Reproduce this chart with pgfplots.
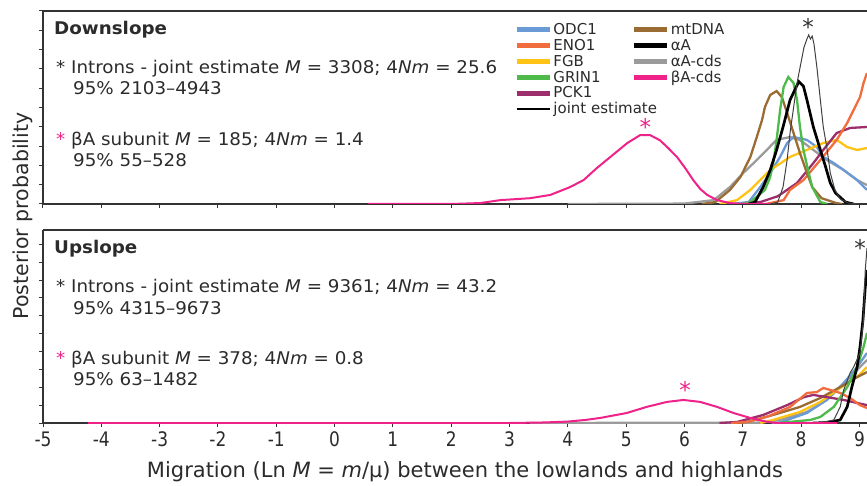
\documentclass[border=0pt]{standalone}
\usepackage{pgfplots}
\pgfplotsset{compat=1.18}
\usepackage{fontspec}
\setmainfont{DejaVu Sans}
\newfontfamily\narrowfont[FakeStretch=0.85]{DejaVu Sans}
\newfontfamily\widefont[FakeStretch=1.045]{DejaVu Sans}
\definecolor{cODC}{HTML}{6A9BD6}
\definecolor{cENO}{HTML}{F26D3D}
\definecolor{cFGB}{HTML}{FFC316}
\definecolor{cGRIN}{HTML}{4DBA4A}
\definecolor{cPCK}{HTML}{9C2F6B}
\definecolor{cMT}{HTML}{9A6C33}
\definecolor{cAcds}{HTML}{9B9B9B}
\definecolor{cBcds}{HTML}{EE2289}
\definecolor{cTxt}{HTML}{2B2B2B}
\definecolor{cAx}{HTML}{333333}
\newcommand{\lc}[1]{\makebox[77pt][l]{#1}}
\newcommand{\astmark}{\raisebox{-10pt}[7.5pt][0pt]{*}}
\tikzset{astnode/.style={inner sep=0pt, font=\fontsize{23}{23}\selectfont}}
\pgfplotsset{
  panel/.style={
    scale only axis, width=824pt, height=193pt,
    xmin=-5, xmax=9.13, ymin=0,
    axis x line*=box, axis y line*=left,
    axis line style={-, cAx, line width=1.4pt},
    xtick={-5,-4,...,9},
    tick align=outside, major tick length=4pt,
    tick style={cAx, line width=1pt},
    xtick pos=left, ytick pos=left,
    yticklabels={},
    clip=true,
  },
  thin curve/.style={line width=1.0pt},
  curve/.style={line width=2.3pt},
}
\begin{document}
\begin{tikzpicture}[x=1pt,y=1pt]
%================ TOP PANEL (Downslope) ================
\begin{axis}[panel, at={(43pt,281pt)}, anchor=south west,
  ymax=1, ytick={0,0.1,...,1.0}, xticklabels={},
  legend columns=2,
  legend cell align=left,
  legend image code/.code={\draw[#1] (0pt,0pt) -- (33pt,0pt);},
  legend style={at={(rel axis cs:0.568,0.952)}, anchor=north west, draw=none, fill=none,
    font=\fontsize{15}{16}\selectfont\color{cTxt},
    column sep=0pt, row sep=0.6pt,
    nodes={inner sep=1.2pt}},
]
\addlegendimage{cODC, line width=5pt}\addlegendentry{\lc{ODC1}}
\addlegendimage{cMT, line width=5pt}\addlegendentry{mtDNA}
\addlegendimage{cENO, line width=5pt}\addlegendentry{\lc{ENO1}}
\addlegendimage{black, line width=5pt}\addlegendentry{αA}
\addlegendimage{cFGB, line width=5pt}\addlegendentry{\lc{FGB}}
\addlegendimage{cAcds, line width=5pt}\addlegendentry{αA-cds}
\addlegendimage{cGRIN, line width=5pt}\addlegendentry{\lc{GRIN1}}
\addlegendimage{cBcds, line width=5pt}\addlegendentry{βA-cds}
\addlegendimage{cPCK, line width=5pt}\addlegendentry{\lc{PCK1}}
\addlegendimage{empty legend}\addlegendentry{}
\addlegendimage{black, line width=2.6pt}\addlegendentry{\rlap{joint estimate}}
\addlegendimage{empty legend}\addlegendentry{}

% alphaA-cds (gray)
\addplot[cAcds, curve, forget plot] coordinates {(4.0,0) (6.0,0.002) (6.5,0.02) (6.78,0.088) (7.01,0.161) (7.24,0.228) (7.41,0.28) (7.58,0.332) (7.81,0.347) (7.98,0.332) (8.21,0.28) (8.44,0.228) (8.73,0.176) (8.96,0.124) (9.13,0.098)};
% ODC1 (blue)
\addplot[cODC, curve, forget plot] coordinates {(6.8,0) (7.10,0.01) (7.30,0.088) (7.47,0.161) (7.64,0.244) (7.76,0.316) (7.87,0.347) (8.10,0.332) (8.27,0.295) (8.38,0.244) (8.56,0.212) (8.73,0.176) (8.96,0.124) (9.13,0.073)};
% FGB (yellow)
\addplot[cFGB, curve, forget plot] coordinates {(6.6,0) (6.9,0.02) (7.13,0.073) (7.47,0.176) (7.81,0.244) (8.10,0.28) (8.38,0.316) (8.61,0.332) (8.79,0.295) (8.96,0.28) (9.13,0.29)};
% PCK1 (purple)
\addplot[cPCK, curve, forget plot] coordinates {(7.0,0) (7.30,0.01) (7.6,0.04) (7.93,0.109) (8.21,0.212) (8.38,0.28) (8.61,0.368) (8.84,0.394) (9.13,0.399)};
% ENO1 (orange)
\addplot[cENO, curve, forget plot] coordinates {(7.4,0) (7.7,0.02) (7.81,0.073) (8.04,0.124) (8.33,0.228) (8.61,0.332) (8.79,0.42) (8.90,0.487) (9.01,0.554) (9.07,0.627) (9.13,0.679)};
% mtDNA (brown)
\addplot[cMT, curve, forget plot] coordinates {(6.3,0) (6.53,0.01) (6.78,0.073) (6.96,0.14) (7.13,0.244) (7.24,0.347) (7.33,0.435) (7.38,0.503) (7.47,0.565) (7.58,0.585) (7.67,0.554) (7.76,0.472) (7.87,0.368) (7.98,0.264) (8.10,0.161) (8.19,0.088) (8.35,0.03) (8.6,0.005) (8.7,0)};
% GRIN1 (green)
\addplot[cGRIN, curve, forget plot] coordinates {(7.0,0) (7.13,0.01) (7.38,0.073) (7.47,0.14) (7.53,0.228) (7.58,0.332) (7.64,0.487) (7.70,0.606) (7.78,0.658) (7.87,0.627) (7.93,0.539) (7.98,0.399) (8.04,0.28) (8.13,0.161) (8.19,0.088) (8.33,0.01) (8.45,0)};
% alphaA (black thick)
\addplot[black, line width=2.7pt, forget plot] coordinates {(7.10,0) (7.21,0.01) (7.35,0.088) (7.47,0.176) (7.58,0.28) (7.69,0.399) (7.81,0.539) (7.96,0.634) (8.04,0.61) (8.10,0.539) (8.21,0.399) (8.33,0.28) (8.42,0.192) (8.50,0.109) (8.59,0.057) (8.76,0.01) (8.9,0)};
% joint estimate (thin)
\addplot[black!75, thin curve, forget plot] coordinates {(7.47,0) (7.60,0.01) (7.69,0.088) (7.76,0.228) (7.81,0.368) (7.93,0.627) (8.05,0.813) (8.10,0.855) (8.13,0.876) (8.16,0.855) (8.19,0.87) (8.22,0.83) (8.27,0.71) (8.33,0.539) (8.38,0.399) (8.44,0.295) (8.50,0.161) (8.58,0.073) (8.67,0.026) (8.81,0.005) (9.0,0)};
% betaA-cds (pink)
\addplot[cBcds, line width=2pt, forget plot] coordinates {(0.575,0) (2.0,0) (2.5,0.005) (2.84,0.02) (3.35,0.03) (3.70,0.047) (4.04,0.088) (4.27,0.124) (4.50,0.187) (4.73,0.244) (5.02,0.316) (5.24,0.357) (5.41,0.357) (5.58,0.33) (5.72,0.29) (5.87,0.244) (6.01,0.187) (6.15,0.124) (6.27,0.078) (6.39,0.047) (6.56,0.02) (6.78,0.005) (7.0,0) (7.47,0)};
\node[astnode, cAx] at (axis cs:8.12,0.943) {\astmark};
\node[astnode, cBcds] at (axis cs:5.33,0.425) {\astmark};
\end{axis}
%================ BOTTOM PANEL (Upslope) ================
\begin{axis}[panel, at={(43pt,62pt)}, anchor=south west,
  ymax=1.08, ytick={0,0.1,...,1.0},
  xticklabels={-5,-4,-3,-2,-1,0,1,2,3,4,5,6,7,8,9},
  xticklabel style={font=\fontsize{20}{20}\selectfont\narrowfont\color{cTxt}, yshift=-1pt},
  xlabel={Migration (Ln \textit{M} = \textit{m}/μ) between the lowlands and highlands},
  xlabel style={font=\fontsize{21}{21}\selectfont\color{cTxt}, xshift=10pt, yshift=-8pt},
]
% alphaA-cds (gray)
\addplot[cAcds, curve, forget plot] coordinates {(3.35,0) (7.3,0.002) (7.64,0.017) (8.10,0.062) (8.44,0.129) (8.79,0.24) (9.01,0.313) (9.13,0.353)};
% ODC1
\addplot[cODC, curve, forget plot] coordinates {(7.5,0) (7.64,0.003) (8.10,0.056) (8.44,0.129) (8.73,0.224) (8.96,0.313) (9.13,0.392)};
% FGB
\addplot[cFGB, curve, forget plot] coordinates {(7.3,0) (7.52,0.017) (7.98,0.062) (8.33,0.118) (8.67,0.196) (8.96,0.257) (9.13,0.313)};
% mtDNA
\addplot[cMT, curve, forget plot] coordinates {(6.9,0) (7.07,0.0056) (7.52,0.045) (7.98,0.09) (8.33,0.14) (8.67,0.201) (8.96,0.257) (9.13,0.285)};
% PCK1
\addplot[cPCK, curve, forget plot] coordinates {(6.6,0) (6.90,0.0056) (7.35,0.045) (7.76,0.10) (8.05,0.145) (8.21,0.157) (8.44,0.145) (8.73,0.129) (8.96,0.112) (9.13,0.10)};
% ENO1
\addplot[cENO, curve, forget plot] coordinates {(6.8,0) (7.07,0.0056) (7.41,0.034) (7.81,0.09) (8.10,0.168) (8.27,0.173) (8.38,0.196) (8.50,0.185) (8.67,0.168) (8.84,0.14) (9.01,0.10) (9.13,0.084)};
% GRIN1
\addplot[cGRIN, curve, forget plot] coordinates {(7.6,0) (8.16,0.017) (8.33,0.034) (8.56,0.09) (8.79,0.201) (8.96,0.313) (9.07,0.425) (9.13,0.504)};
% alphaA
\addplot[black, line width=2.7pt, forget plot] coordinates {(8.2,0) (8.44,0.002) (8.67,0.017) (8.79,0.09) (8.87,0.201) (8.96,0.313) (9.01,0.425) (9.06,0.576) (9.10,0.761) (9.13,0.856)};
% joint estimate
\addplot[black!75, thin curve, forget plot] coordinates {(7.8,0) (8.33,0.002) (8.56,0.017) (8.67,0.09) (8.73,0.185) (8.84,0.28) (8.90,0.313) (9.01,0.392) (9.07,0.576) (9.10,0.856) (9.13,0.98)};
% betaA-cds
\addplot[cBcds, line width=2pt, forget plot] coordinates {(-4.23,0) (3.0,0) (3.6,0.003) (4.0,0.008) (4.3,0.017) (4.55,0.028) (5.01,0.056) (5.35,0.09) (5.70,0.118) (5.98,0.129) (6.27,0.118) (6.56,0.09) (6.84,0.056) (7.13,0.028) (7.41,0.007) (7.58,0) (8.62,0)};
\node[astnode, cAx] at (axis cs:9.01,1.007) {\astmark};
\node[astnode, cBcds] at (axis cs:6.01,0.213) {\astmark};
\end{axis}
%================ TEXT ================
\node[rotate=90, font=\fontsize{20.5}{20.5}\selectfont\color{cTxt}] at (23pt,269pt) {Posterior probability};
\begin{scope}[every node/.style={anchor=base west, inner sep=0pt, text=cTxt, font=\fontsize{17.5}{17.5}\selectfont\widefont}]
\node[font=\fontsize{17.5}{17.5}\selectfont\widefont\bfseries] at (54pt,450.7pt) {Downslope};
\node at (56pt,411pt) {* Introns - joint estimate \textit{M} = 3308; 4\textit{Nm} = 25.6};
\node at (73pt,390pt) {95\% 2103–4943};
\node at (56pt,339.3pt) {\textcolor{cBcds}{*} βA subunit \textit{M} = 185; 4\textit{Nm} = 1.4};
\node at (73pt,318.3pt) {95\% 55–528};
\node[font=\fontsize{17.5}{17.5}\selectfont\widefont\bfseries] at (54pt,231.7pt) {Upslope};
\node at (56pt,192.3pt) {* Introns - joint estimate \textit{M} = 9361; 4\textit{Nm} = 43.2};
\node at (73pt,171pt) {95\% 4315–9673};
\node at (56pt,121pt) {\textcolor{cBcds}{*} βA subunit \textit{M} = 378; 4\textit{Nm} = 0.8};
\node at (73pt,100pt) {95\% 63–1482};
\end{scope}
\pgfresetboundingbox
\useasboundingbox (0,0) rectangle (867pt,485pt);
\end{tikzpicture}
\end{document}
